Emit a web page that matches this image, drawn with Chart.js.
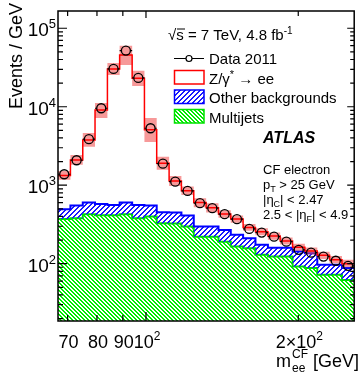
<!DOCTYPE html>
<html>
<head>
<meta charset="utf-8">
<script src="https://cdn.jsdelivr.net/npm/chart.js@4.4.1/dist/chart.umd.min.js"></script>
<style>
  html, body { margin: 0; padding: 0; background: #fff; }
  canvas { display: block; }
</style>
</head>
<body>
<canvas id="massChart" width="360" height="375"></canvas>
<script>
// bin edges in GeV (log spaced)
const binEdges = [67, 70.9, 75.0, 79.3, 83.9, 88.7, 93.9, 99.3, 105.0, 111.1, 117.5, 124.3, 131.5,
  139.1, 147.1, 155.6, 164.6, 174.2, 184.2, 194.9, 206.1, 218.1, 230.7, 244.0, 258.0];

// events / GeV
const data2011 = [1380, 2080, 3860, 9570, 30300, 51900, 23300, 5320, 1880, 1110, 846, 590,
  509, 428, 369, 277, 249, 221, 191, 150, 138, 123, 109, 94];
const totalPrediction = [1330, 2100, 3780, 9100, 30300, 45500, 23000, 5100, 1900, 1130, 850, 600,
  515, 430, 370, 290, 255, 225, 195, 162, 145, 128, 112, 100];
const bandUp = [1520, 2430, 4640, 11200, 36100, 60000, 28800, 7200, 2310, 1310, 960, 680,
  590, 480, 410, 320, 282, 250, 216, 180, 161, 142, 125, 112];
const bandDown = [1170, 1820, 3080, 7200, 25400, 34100, 18400, 3560, 1570, 980, 750, 525,
  450, 385, 332, 262, 230, 202, 176, 146, 131, 115, 101, 90];
const otherPlusMultijet = [494, 550, 600, 578, 561, 600, 561, 550, 453, 450, 410, 297,
  297, 269, 233, 211, 174, 160, 160, 143, 136, 97, 97, 88];
const multijets = [372, 380, 427, 415, 415, 427, 380, 398, 328, 325, 297, 221,
  221, 191, 165, 157, 130, 123, 123, 92, 88, 72, 72, 62];

const yTicks = [100, 1000, 10000, 100000];
const yTickLabels = [['10', '2'], ['10', '3'], ['10', '4'], ['10', '5']];
const xTicks = [70, 80, 90, 100, 200];
const xTickLabels = [['70', ''], ['80', ''], ['90', ''], ['10', '2'], ['2\u00d710', '2']];

const FONT = '"Liberation Sans", Arial, Helvetica, sans-serif';
const canvas = document.getElementById('massChart');
const mainCtx = canvas.getContext('2d');

function makeHatch(color, size, rising) {
  const c = document.createElement('canvas');
  c.width = size; c.height = size;
  const g = c.getContext('2d');
  g.fillStyle = color;
  for (let i = 0; i < size; i++) {
    const y = rising ? size - 1 - i : i;
    g.fillRect(i, y, 1, 1);
    g.fillRect((i + 1) % size, y, 1, 1);
  }
  return mainCtx.createPattern(c, 'repeat');
}
const blueHatch = makeHatch('#1a1aff', 5, true);
const greenHatch = makeHatch('#00ee00', 4, false);

function histPoints(values) {
  return binEdges.map((e, i) => ({ x: e, y: values[Math.min(i, values.length - 1)] }));
}
const binCenters = data2011.map((_, i) => Math.sqrt(binEdges[i] * binEdges[i + 1]));

function rich(ctx, x, y, parts, align) {
  // parts: [text, size, dy, style]
  let w = 0;
  parts.forEach(p => { ctx.font = `${p[3] || ''} ${p[1]}px ${FONT}`; w += ctx.measureText(p[0]).width; });
  let cx = align === 'right' ? x - w : align === 'center' ? x - w / 2 : x;
  ctx.textAlign = 'left';
  ctx.textBaseline = 'alphabetic';
  parts.forEach(p => {
    ctx.font = `${p[3] || ''} ${p[1]}px ${FONT}`;
    ctx.fillText(p[0], cx, y + (p[2] || 0));
    cx += ctx.measureText(p[0]).width;
  });
  return cx;
}

const atlasDecor = {
  id: 'atlasDecor',
  afterDatasetsDraw(chart) {
    const ctx = chart.ctx;
    const xs = chart.scales.x, ys = chart.scales.y;
    const r = 4.5;
    ctx.save();
    ctx.strokeStyle = '#000';
    ctx.lineWidth = 1.2;
    data2011.forEach((v, i) => {
      const yp = ys.getPixelForValue(v);
      const xl = xs.getPixelForValue(binEdges[i]);
      const xr = xs.getPixelForValue(binEdges[i + 1]);
      const xc = xs.getPixelForValue(binCenters[i]);
      ctx.beginPath();
      ctx.moveTo(xl, yp); ctx.lineTo(xc - r, yp);
      ctx.moveTo(xc + r, yp); ctx.lineTo(xr, yp);
      ctx.stroke();
    });
    ctx.restore();
  },
  afterDraw(chart) {
    const ctx = chart.ctx;
    const a = chart.chartArea;
    const xs = chart.scales.x, ys = chart.scales.y;
    ctx.save();
    ctx.strokeStyle = '#000';
    ctx.fillStyle = '#000';
    ctx.lineWidth = 1.5;
    ctx.strokeRect(a.left, a.top, a.right - a.left, a.bottom - a.top);

    // y ticks, left and right
    ctx.lineWidth = 1.2;
    ctx.beginPath();
    for (let d = 10; d <= 100000; d *= 10) {
      for (let m = 1; m <= 9; m++) {
        const v = d * m;
        if (v < ys.min || v > ys.max) continue;
        const yp = ys.getPixelForValue(v);
        const major = m === 1;
        ctx.moveTo(a.left, yp); ctx.lineTo(a.left + (major ? 9 : 5), yp);
        ctx.moveTo(a.right, yp); ctx.lineTo(a.right - (major ? 7 : 4), yp);
      }
    }
    xTicks.forEach(v => {
      const xp = xs.getPixelForValue(v);
      const major = v === 100;
      ctx.moveTo(xp, a.bottom); ctx.lineTo(xp, a.bottom - (major ? 9 : 6));
      ctx.moveTo(xp, a.top); ctx.lineTo(xp, a.top + (major ? 7 : 5));
    });
    ctx.stroke();

    // tick labels
    yTicks.forEach((v, i) => {
      const yp = ys.getPixelForValue(v);
      rich(ctx, 56, yp + 8, [[yTickLabels[i][0], 19, 0], [yTickLabels[i][1], 13, -8]], 'right');
    });
    xTicks.forEach((v, i) => {
      const xp = xs.getPixelForValue(v);
      const parts = [[xTickLabels[i][0], 18, 0]];
      if (xTickLabels[i][1]) parts.push([xTickLabels[i][1], 12, -8]);
      rich(ctx, xp + 1, 348, parts, 'center');
    });

    // axis titles
    ctx.save();
    ctx.translate(22, 56);
    ctx.rotate(-Math.PI / 2);
    ctx.font = `18px ${FONT}`;
    ctx.textAlign = 'center';
    ctx.textBaseline = 'alphabetic';
    ctx.fillText('Events / GeV', 0, 0);
    ctx.restore();

    ctx.font = `18px ${FONT}`;
    const mW = ctx.measureText('m').width;
    ctx.font = `12px ${FONT}`;
    const subW = Math.max(ctx.measureText('ee').width, ctx.measureText('CF').width);
    ctx.font = `18px ${FONT}`;
    const unitW = ctx.measureText(' [GeV]').width;
    let tx = 358 - mW - subW - unitW;
    rich(ctx, tx, 367, [['m', 18, 0]]);
    rich(ctx, tx + mW + 1, 372, [['ee', 12, 0]]);
    rich(ctx, tx + mW + 1, 358, [['CF', 12, 0]]);
    rich(ctx, tx + mW + subW + 1, 367, [[' [GeV]', 18, 0]]);

    // legend
    rich(ctx, 168, 40, [['\u221a', 15, 0], ['s = 7 TeV, 4.8 fb', 15, 0], ['-1', 10, -6]]);
    ctx.lineWidth = 1;
    ctx.beginPath();
    ctx.moveTo(177, 29); ctx.lineTo(185, 29);
    ctx.stroke();

    ctx.lineWidth = 1.2;
    ctx.beginPath();
    ctx.moveTo(174, 58.5); ctx.lineTo(186, 58.5);
    ctx.moveTo(192, 58.5); ctx.lineTo(204, 58.5);
    ctx.stroke();
    ctx.beginPath();
    ctx.arc(189, 58.5, 3, 0, Math.PI * 2);
    ctx.stroke();
    rich(ctx, 209, 64, [['Data 2011', 15, 0]]);

    ctx.strokeStyle = '#ff0000';
    ctx.lineWidth = 1.5;
    ctx.strokeRect(174.5, 70.5, 29.5, 13.5);
    rich(ctx, 209, 83.5, [['Z/\u03b3', 15, 0], ['*', 11, -6], [' \u2192 ee', 15, 0]]);

    ctx.fillStyle = blueHatch;
    ctx.fillRect(174.5, 90, 29.5, 13.5);
    ctx.strokeStyle = '#0000ff';
    ctx.strokeRect(174.5, 90, 29.5, 13.5);
    ctx.fillStyle = '#000';
    rich(ctx, 209, 103, [['Other backgrounds', 15, 0]]);

    ctx.fillStyle = greenHatch;
    ctx.fillRect(174.5, 109.5, 29.5, 13.5);
    ctx.strokeStyle = '#00e000';
    ctx.strokeRect(174.5, 109.5, 29.5, 13.5);
    ctx.fillStyle = '#000';
    rich(ctx, 209, 122.5, [['Multijets', 15, 0]]);

    rich(ctx, 263, 143, [['ATLAS', 16, 0, 'italic bold']]);
    rich(ctx, 263, 174, [['CF electron', 13, 0]]);
    rich(ctx, 263, 189, [['p', 13, 0], ['T', 9, 3], [' > 25 GeV', 13, 0]]);
    rich(ctx, 263, 204, [['|\u03b7', 13, 0], ['C', 9, 3], ['| < 2.47', 13, 0]]);
    rich(ctx, 263, 219, [['2.5 < |\u03b7', 13, 0], ['F', 9, 3], ['| < 4.9', 13, 0]]);
    ctx.restore();
  }
};

new Chart(mainCtx, {
  type: 'line',
  data: {
    datasets: [
      {
        label: 'Data 2011',
        data: data2011.map((v, i) => ({ x: binCenters[i], y: v })),
        showLine: false,
        pointRadius: 4.5,
        pointBorderWidth: 1.3,
        pointBorderColor: '#000',
        pointBackgroundColor: 'rgba(0,0,0,0)',
        order: 0
      },
      {
        label: 'Z/gamma* -> ee',
        data: histPoints(totalPrediction),
        stepped: true,
        borderColor: '#ff0000',
        borderWidth: 1.5,
        pointRadius: 0,
        fill: false,
        order: 1
      },
      {
        label: 'band low',
        data: histPoints(bandDown),
        stepped: true,
        borderWidth: 0,
        borderColor: 'rgba(0,0,0,0)',
        pointRadius: 0,
        fill: false,
        order: 2
      },
      {
        label: 'band high',
        data: histPoints(bandUp),
        stepped: true,
        borderWidth: 0,
        borderColor: 'rgba(0,0,0,0)',
        backgroundColor: 'rgba(240, 70, 70, 0.55)',
        pointRadius: 0,
        fill: '-1',
        order: 2
      },
      {
        label: 'Multijets',
        data: histPoints(multijets),
        stepped: true,
        borderColor: '#00e000',
        borderWidth: 2,
        backgroundColor: greenHatch,
        pointRadius: 0,
        fill: 'start',
        order: 5
      },
      {
        label: 'Other backgrounds',
        data: histPoints(otherPlusMultijet),
        stepped: true,
        borderColor: '#0000ff',
        borderWidth: 2,
        backgroundColor: blueHatch,
        pointRadius: 0,
        fill: '-1',
        order: 4
      }
    ]
  },
  options: {
    responsive: false,
    animation: false,
    events: [],
    layout: { padding: { left: 58, right: 4, top: 11, bottom: 54 } },
    scales: {
      x: { type: 'logarithmic', min: 67, max: 258, display: false },
      y: { type: 'logarithmic', min: 18.6, max: 166000, display: false }
    },
    plugins: { legend: { display: false }, tooltip: { enabled: false } }
  },
  plugins: [atlasDecor]
});
</script>
</body>
</html>
